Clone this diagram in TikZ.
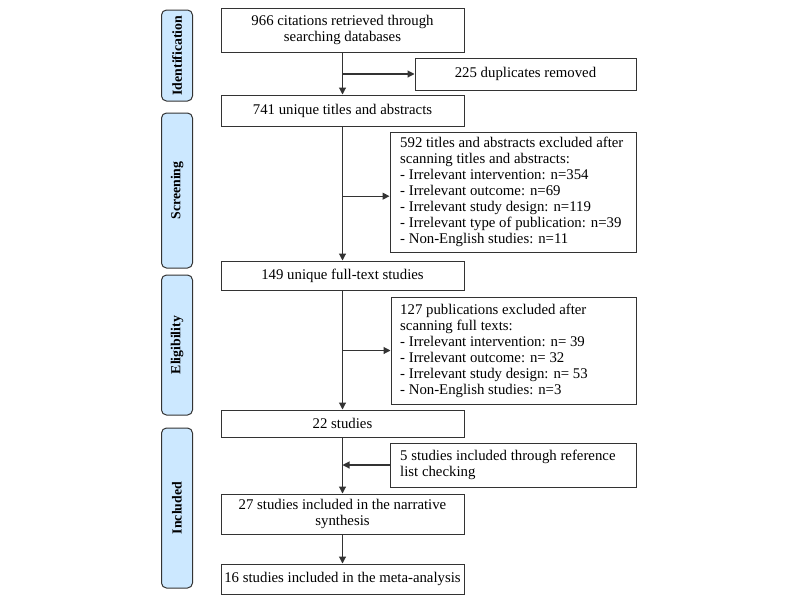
\documentclass[tikz,border=0pt]{standalone}
\usepackage{fontspec}
\setmainfont{Liberation Serif}
\usetikzlibrary{arrows.meta,calc}
\definecolor{sidefill}{HTML}{CCE8FF}
\definecolor{linec}{HTML}{333333}
\tikzset{
  box/.style={draw=linec, line width=1pt, rectangle, inner sep=0pt, font=\fontsize{14.8}{16}\selectfont, align=center, text=black},
  exbox/.style={draw=linec, line width=1pt, rectangle, inner sep=0pt},
  extext/.style={anchor=west, inner sep=0pt, font=\fontsize{14.8}{16}\selectfont, align=left, text=black},
  side/.style={draw=linec, line width=1pt, fill=sidefill, rounded corners=5pt, rectangle, inner sep=0pt, font=\fontsize{13.8}{16}\selectfont\bfseries, rotate=90, text=black},
  arr/.style={draw=linec, line width=1.1pt, -{Triangle[length=7pt,width=7pt]}},
}
\begin{document}
\begin{tikzpicture}[x=1pt,y=-1pt]
\useasboundingbox (0,0) rectangle (800,600);
% side labels (rotated: minimum width = vertical extent)
\node[side, minimum width=91pt, minimum height=31pt] (sid) at (177,55.5) {Identification};
\node[side, minimum width=155pt, minimum height=31pt] (ssc) at (177,190.5) {Screening};
\node[side, minimum width=140pt, minimum height=31pt] (sel) at (177,345) {Eligibility};
\node[side, minimum width=160pt, minimum height=31pt] (sin) at (177,508) {Included};
% main boxes
\node[box, minimum width=243pt, minimum height=44pt] (b1) at (342.5,30) {966 citations retrieved through\\searching databases};
\node[box, minimum width=221pt, minimum height=32pt] (dup) at (525.5,74) {225 duplicates removed};
\node[box, minimum width=243pt, minimum height=31pt] (b741) at (342.5,110.5) {741 unique titles and abstracts};
\node[exbox, minimum width=246pt, minimum height=120pt] (ex1) at (513,192) {};
\node[extext] (ex1t) at ([xshift=10.5pt]ex1.west) {592 titles and abstracts excluded after\\scanning titles and abstracts:\\- Irrelevant intervention: n=354\\- Irrelevant outcome: n=69\\- Irrelevant study design: n=119\\- Irrelevant type of publication: n=39\\- Non-English studies: n=11};
\node[box, minimum width=243pt, minimum height=29pt] (b149) at (342.5,275.5) {149 unique full-text studies};
\node[exbox, minimum width=245pt, minimum height=107pt] (ex2) at (513.5,350.5) {};
\node[extext] (ex2t) at ([xshift=9.5pt]ex2.west) {127 publications excluded after\\scanning full texts:\\- Irrelevant intervention: n= 39\\- Irrelevant outcome: n= 32\\- Irrelevant study design: n= 53\\- Non-English studies: n=3};
\node[box, minimum width=243pt, minimum height=27pt] (b22) at (342.5,423.5) {22 studies};
\node[exbox, minimum width=246pt, minimum height=44pt] (b5) at (513,465) {};
\node[extext] (b5t) at ([xshift=10.5pt]b5.west) {5 studies included through reference\\list checking};
\node[box, minimum width=243pt, minimum height=40pt] (b27) at (342.5,514) {27 studies included in the narrative\\synthesis};
\node[box, minimum width=243pt, minimum height=30pt] (b16) at (342.5,579) {16 studies included in the meta-analysis};
% connectors
\coordinate (j1) at (b1.south |- dup.west);
\coordinate (j2) at ($(b741.south)!0.52!(b149.north)$);
\coordinate (j2e) at (ex1.west |- j2);
\coordinate (j3) at (b149.south |- ex2.west);
\coordinate (j4) at (b22.south |- b5.west);
\draw[arr] (b1.south) -- (b741.north);
\draw[arr] (j1) -- (dup.west);
\draw[arr] (b741.south) -- (b149.north);
\draw[arr] (j2) -- (j2e);
\draw[arr] (b149.south) -- (b22.north);
\draw[arr] (j3) -- (ex2.west);
\draw[arr] (b22.south) -- (b27.north);
\draw[arr] (b5.west) -- (j4);
\draw[arr] (b27.south) -- (b16.north);
\end{tikzpicture}
\end{document}
